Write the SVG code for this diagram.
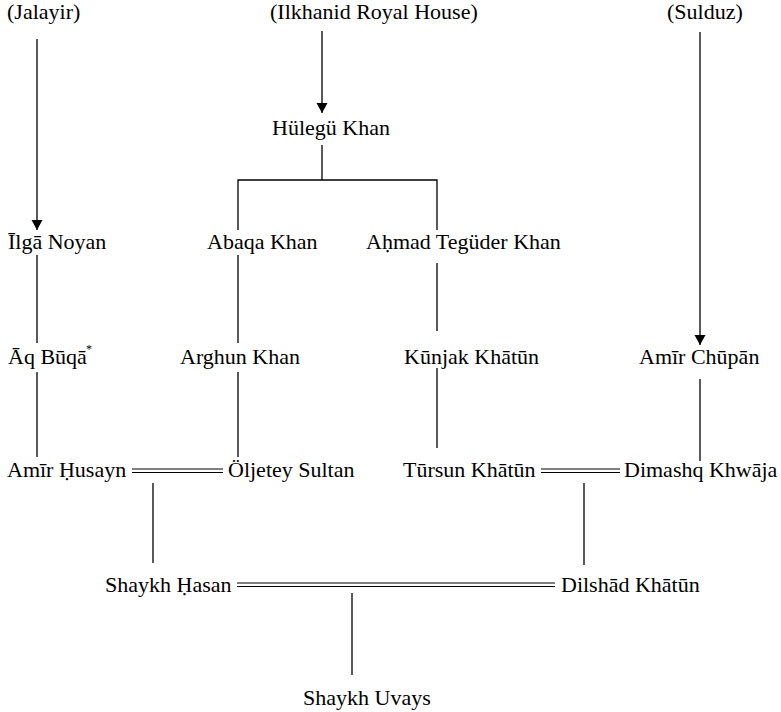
<svg xmlns="http://www.w3.org/2000/svg" width="781" height="712" viewBox="0 0 781 712">
<style>
text{font-family:'Liberation Serif','Times New Roman',Tinos,'DejaVu Serif',serif;font-size:22px;fill:#000}
.ln{stroke:#000;stroke-width:1.3;fill:none}
.dbl{stroke:#000;stroke-width:1;fill:none}
.sup{font-size:12px}
</style>
<defs>
<marker id="ah" markerUnits="userSpaceOnUse" markerWidth="12" markerHeight="12" viewBox="0 0 12 12" refX="10" refY="6" orient="auto">
<path d="M0,0.5 L10,6 L0,11.5 Z" fill="#000"/>
</marker>
</defs>
<rect width="781" height="712" fill="#fff"/>
<g id="connectors">
<line class="ln" x1="37" y1="39" x2="37" y2="230" marker-end="url(#ah)"/>
<line class="ln" x1="322" y1="31" x2="322" y2="113" marker-end="url(#ah)"/>
<line class="ln" x1="700" y1="32" x2="700" y2="345" marker-end="url(#ah)"/>
<line class="ln" x1="322" y1="145" x2="322" y2="180"/>
<polyline class="ln" points="238,230 238,180 437,180 437,230"/>
<line class="ln" x1="37" y1="255" x2="37" y2="343"/>
<line class="ln" x1="238" y1="255" x2="238" y2="343"/>
<line class="ln" x1="437" y1="263" x2="437" y2="331"/>
<line class="ln" x1="37" y1="372" x2="37" y2="457"/>
<line class="ln" x1="238" y1="372" x2="238" y2="457"/>
<line class="ln" x1="437" y1="368" x2="437" y2="448"/>
<line class="ln" x1="700" y1="379" x2="700" y2="461"/>
<line class="dbl" x1="132" y1="469" x2="223" y2="469"/>
<line class="dbl" x1="132" y1="472.5" x2="223" y2="472.5"/>
<line class="dbl" x1="541" y1="469" x2="620" y2="469"/>
<line class="dbl" x1="541" y1="472.5" x2="620" y2="472.5"/>
<line class="ln" x1="153" y1="483" x2="153" y2="563"/>
<line class="ln" x1="584" y1="483" x2="584" y2="565"/>
<line class="dbl" x1="237" y1="583" x2="555" y2="583"/>
<line class="dbl" x1="237" y1="586.5" x2="555" y2="586.5"/>
<line class="ln" x1="352" y1="593" x2="352" y2="675"/>
</g>
<g id="jalayir"><text x="7" y="19">(Jalayir)</text></g>
<g id="ilkhanid"><text x="270" y="19">(Ilkhanid Royal House)</text></g>
<g id="sulduz"><text x="667" y="19">(Sulduz)</text></g>
<g id="hulegu"><text x="272" y="135">Hülegü Khan</text></g>
<g id="ilga"><text x="8" y="249">Īlgā Noyan</text></g>
<g id="abaqa"><text x="207" y="249">Abaqa Khan</text></g>
<g id="ahmad"><text x="366" y="249">Aḥmad Tegüder Khan</text></g>
<g id="aqbuqa"><text x="8" y="364">Āq Būqā</text><text class="sup" x="86" y="353">*</text></g>
<g id="arghun"><text x="180" y="364">Arghun Khan</text></g>
<g id="kunjak"><text x="404" y="364">Kūnjak Khātūn</text></g>
<g id="chupan"><text x="639" y="364">Amīr Chūpān</text></g>
<g id="husayn"><text x="7" y="477">Amīr Ḥusayn</text></g>
<g id="oljetey"><text x="228" y="477">Öljetey Sultan</text></g>
<g id="tursun"><text x="403" y="477">Tūrsun Khātūn</text></g>
<g id="dimashq"><text x="624" y="477">Dimashq Khwāja</text></g>
<g id="hasan"><text x="105" y="592">Shaykh Ḥasan</text></g>
<g id="dilshad"><text x="561" y="592">Dilshād Khātūn</text></g>
<g id="uvays"><text x="303" y="705">Shaykh Uvays</text></g>
</svg>
